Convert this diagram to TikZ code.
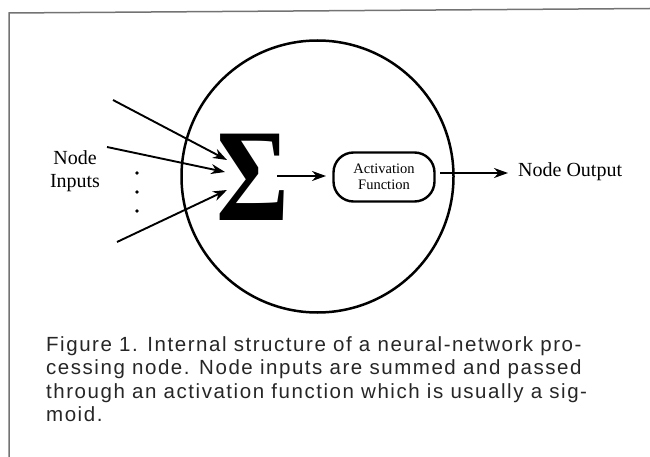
\documentclass[tikz,border=0pt]{standalone}
\usepackage{fontspec}
\setmainfont{Liberation Serif}
\newfontfamily\capfont[LetterSpace=7.5]{Liberation Sans}
\usetikzlibrary{arrows.meta}
\tikzset{
  arr/.style={line width=1.9pt,-{Stealth[length=14pt,width=10pt,inset=4.5pt]}},
  lbl/.style={inner sep=0pt,anchor=base west,font=\fontsize{20}{22}\selectfont},
  captxt/.style={inner sep=0pt,anchor=base west,font=\capfont\fontsize{20.5}{23}\selectfont,text=black!85},
  actbox/.style={draw,line width=2.4pt,rounded corners=20pt,minimum width=101pt,minimum height=49pt,inner sep=0pt,align=center,font=\fontsize{14.5}{15.5}\selectfont},
  frameline/.style={draw=black!55,line width=1.5pt},
  dotm/.style={circle,fill,inner sep=0pt,minimum size=3.8pt}
}
\begin{document}
\begin{tikzpicture}[x=1pt,y=-1pt]
\useasboundingbox (0,0) rectangle (650,457);
% frame
\coordinate (fb) at (9,457);
\coordinate (ftl) at (9,13);
\coordinate (ftr) at (650,8.5);
\draw[frameline] (fb) -- (ftl) -- (ftr);
% circle
\node[draw,circle,line width=2.5pt,minimum size=272pt,inner sep=0pt] (circ) at (317.5,176.5) {};
% sigma
\node[inner sep=0pt] (sig) at (252.5,177.5) {\scalebox{0.82}[0.97]{\fontsize{136}{136}\selectfont\bfseries Σ}};
% activation box
\node[actbox] (act) at (384,177) {Activation\\Function};
% labels
\node[lbl] (out) at (518,177) {Node Output};
\node[lbl,anchor=base] (in1) at (75,165) {Node};
\node[lbl,anchor=base] (in2) at (75,187) {Inputs};
% input arrows
\coordinate (s1) at (113,100);
\coordinate (s2) at (107,147);
\coordinate (s3) at (117,242);
\coordinate (e1) at (227,160);
\coordinate (e2) at (225,172);
\coordinate (e3) at (227,190);
\draw[arr] (s1) -- (e1);
\draw[arr] (s2) -- (e2);
\draw[arr] (s3) -- (e3);
% dots
\node[dotm] (d1) at (137,173) {};
\node[dotm] (d2) at (137,192) {};
\node[dotm] (d3) at (137,211) {};
% internal arrows
\coordinate (sigout) at (277,176);
\coordinate (actin) at (326,176);
\draw[arr] (sigout) -- (actin);
\coordinate (actout) at (440,173);
\coordinate (outin) at (508,173);
\draw[arr] (actout) -- (outin);
% caption
\node[captxt] (c1) at (46,351) {Figure 1. Internal structure of a neural-network pro-};
\node[captxt] (c2) at (46,374.5) {cessing node. Node inputs are summed and passed};
\node[captxt] (c3) at (46,398) {through an activation function which is usually a sig-};
\node[captxt] (c4) at (46,421) {moid.};
\end{tikzpicture}
\end{document}
